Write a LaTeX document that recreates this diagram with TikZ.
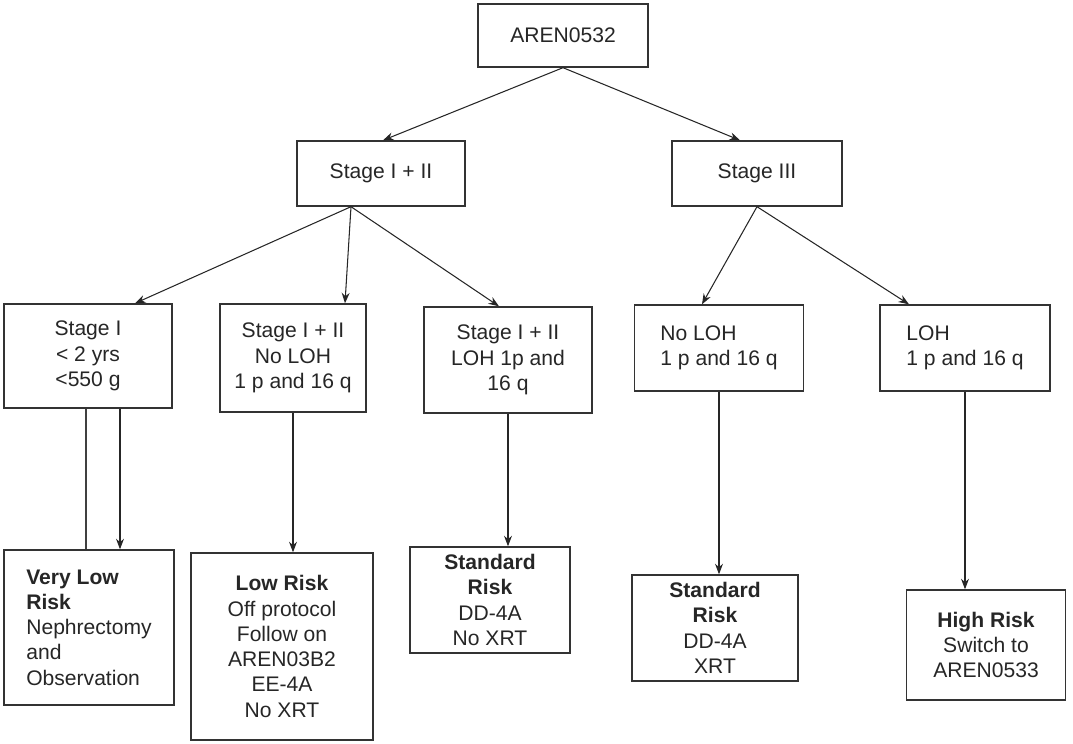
\documentclass[tikz,border=0pt]{standalone}
\usepackage{fontspec}
\setmainfont{Liberation Sans}
\usetikzlibrary{arrows.meta,positioning}

\begin{document}
\begin{tikzpicture}[x=0.02cm, y=-0.02cm,
        block/.style={rectangle, draw=black!80, line width=0.8pt, text=black!85, align=center, inner sep=0pt, font=\fontsize{12pt}{14.4pt}\selectfont},
        arrow/.style={-{Stealth[length=6pt,width=4.5pt]}, draw=black!85, line width=0.6pt},
        line/.style={draw=black!75, line width=0.8pt}
    ]
        \useasboundingbox (0,0) rectangle (1073,744);

        % Blocks
        \node[block, minimum width=3.4cm, minimum height=1.26cm] (aren) at (563,35.5) {AREN0532};
        \node[block, minimum width=3.36cm, minimum height=1.3cm] (s12) at (381,173.5) {Stage I + II};
        \node[block, minimum width=3.4cm, minimum height=1.3cm] (s3) at (757,173.5) {Stage III};

        \node[block, minimum width=3.36cm, minimum height=2.08cm] (st1) at (88,356) {Stage I\\< 2 yrs\\<550 g};
        \node[block, minimum width=2.92cm, minimum height=2.16cm] (nl12) at (293,358) {Stage I + II\\No LOH\\1 p and 16 q};
        \node[block, minimum width=3.36cm, minimum height=2.12cm] (loh12) at (508,360) {Stage I + II\\LOH 1p and\\16 q};
        \node[block, align=left, minimum width=3.38cm, minimum height=1.72cm] (nl3) at (719,348) {No LOH\\1 p and 16 q};
        \node[block, align=left, minimum width=3.4cm, minimum height=1.72cm] (loh3) at (965,348) {LOH\\1 p and 16 q};

        \node[block, align=left, minimum width=3.4cm, minimum height=3.1cm] (vlow) at (89,627.5) {\textbf{Very Low}\\\textbf{Risk}\\Nephrectomy\\and\\Observation};
        \node[block, minimum width=3.64cm, minimum height=3.74cm] (low) at (282,646.5) {\textbf{Low Risk}\\Off protocol\\Follow on\\AREN03B2\\EE-4A\\No XRT};
        \node[block, minimum width=3.2cm, minimum height=2.12cm] (std1) at (490,600) {\textbf{Standard}\\\textbf{Risk}\\DD-4A\\No XRT};
        \node[block, minimum width=3.32cm, minimum height=2.12cm] (std2) at (715,628) {\textbf{Standard}\\\textbf{Risk}\\DD-4A\\XRT};
        \node[block, minimum width=3.18cm, minimum height=2.2cm] (high) at (986,645) {\textbf{High Risk}\\Switch to\\AREN0533};

        % Arrows
        \coordinate (s12b) at ([xshift=-0.6cm]s12.south);
        \coordinate (st1l) at ([xshift=-0.04cm]st1.south);
        \coordinate (st1r) at ([xshift=0.64cm]st1.south);

        \draw[arrow] (aren.south) -- ([xshift=0.04cm]s12.north);
        \draw[arrow] (aren.south) -- ([xshift=-0.34cm]s3.north);
        \draw[arrow] (s12b) -- ([xshift=0.94cm]st1.north);
        \draw[arrow] (s12b) -- ([xshift=1.04cm]nl12.north);
        \draw[arrow] (s12b) -- ([xshift=-0.18cm]loh12.north);
        \draw[arrow] (s3.south) -- ([xshift=-0.34cm]nl3.north);
        \draw[arrow] (s3.south) -- ([xshift=-1.12cm]loh3.north);

        \draw[line] (st1l) -- (st1l |- vlow.north);
        \draw[arrow] (st1r) -- (st1r |- vlow.north);
        \draw[arrow] (nl12.south) -- (nl12.south |- low.north);
        \draw[arrow] (loh12.south) -- (loh12.south |- std1.north);
        \draw[arrow] (nl3.south) -- (nl3.south |- std2.north);
        \draw[arrow] (loh3.south) -- (loh3.south |- high.north);

    \end{tikzpicture}
\end{document}
